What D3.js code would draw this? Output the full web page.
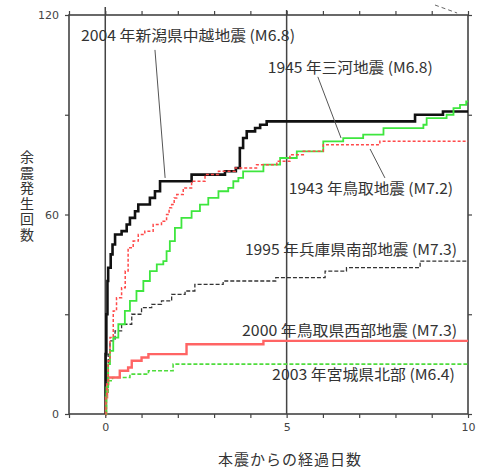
<!DOCTYPE html>
<html>
<head>
<meta charset="utf-8">
<script src="https://cdn.jsdelivr.net/npm/d3@7"></script>
<style>
body { margin: 0; background: #fff; }
</style>
</head>
<body>
<script>
// cumulative aftershock counts: [days after main shock, count]
var chuetsu2004 = [[0,0],[0.01,18],[0.03,30],[0.06,40],[0.08,44],[0.15,48],[0.2,51],[0.27,54],[0.45,55],[0.59,57],[0.68,59],[0.82,61],[0.91,63],[1.23,65],[1.37,67],[1.51,70],[2.38,72],[3.3,73],[3.6,74],[3.71,80],[3.8,83],[3.9,85],[4.13,86],[4.27,87],[4.45,88],[8.54,90],[9.31,91],[10,91]];
var tottori1943 = [[0,0],[0.02,5],[0.04,9],[0.08,16],[0.13,23],[0.22,31],[0.31,35],[0.45,38],[0.55,43],[0.63,50],[0.77,52],[0.91,54],[1.09,55],[1.32,57],[1.55,58],[1.69,60],[1.76,62],[1.83,63],[1.9,65],[1.97,66],[2.15,68],[2.38,70],[2.75,72],[3.12,73],[3.58,74],[4.17,75],[4.73,76],[5.09,78],[5.46,79],[6.01,81],[7.57,82],[10,82]];
var mikawa1945 = [[0,0],[0.03,8],[0.08,15],[0.13,19],[0.22,23],[0.36,27],[0.54,31],[0.68,34],[0.86,37],[1.05,40],[1.23,43],[1.42,45],[1.6,46],[1.69,49],[1.78,52],[1.92,56],[2.1,59],[2.38,61],[2.61,63],[2.84,65],[3.12,67],[3.39,68],[3.53,70],[3.67,71],[3.8,73],[4.36,75],[4.82,77],[5.28,79],[6.01,82],[6.56,83],[7.11,84],[7.67,86],[8.77,87],[8.86,89],[9.41,90],[9.6,92],[9.78,93],[9.95,94],[10,94]];
var kobe1995 = [[0,0],[0.03,10],[0.08,18],[0.13,22],[0.27,25],[0.45,27],[0.73,30],[1.0,32],[1.28,33],[1.55,34],[1.83,36],[2.2,37],[2.47,39],[3.25,40],[4.7,41],[6.06,43],[6.65,44],[8.68,46],[10,46]];
var tottoriWest2000 = [[0,0],[0.02,5],[0.05,9],[0.08,11],[0.4,13],[0.63,14],[0.73,16],[1.0,17],[1.19,18],[2.24,21],[4.36,22],[10,22]];
var miyagi2003 = [[0,0],[0.03,6],[0.08,10],[0.2,11],[0.68,12],[1.19,13],[1.87,15],[10,15]];

var xTicks = d3.range(-1, 11);
var xTickLabels = [0, 5, 10];
var yTicks = [0, 30, 60, 90, 120];
var yTickLabels = [0, 60, 120];
var refDays = [0, 5];
var xTitle = "本震からの経過日数";
var yTitle = "余震発生回数";

// label text, left/right day and count of its centre line
var labels = [
    {text: "2004 年新潟県中越地震 (M6.8)", x0: -0.67, x1: 5.23, y: 114},
    {text: "1945 年三河地震 (M6.8)", x0: 4.48, x1: 9.03, y: 104.4},
    {text: "1943 年鳥取地震 (M7.2)", x0: 5.06, x1: 9.59, y: 68},
    {text: "1995 年兵庫県南部地震 (M7.3)", x0: 3.85, x1: 9.7, y: 49.9},
    {text: "2000 年鳥取県西部地震 (M7.3)", x0: 3.77, x1: 9.7, y: 25.3},
    {text: "2003 年宮城県北部 (M6.4)", x0: 4.6, x1: 9.64, y: 12.3}
];
var leaders = [
    [[1.37, 109.5], [1.65, 71]],
    [[5.86, 101.4], [6.5, 83]],
    [[7.3, 79.7], [7.71, 71]]
];

var series = [
    {data: chuetsu2004, color: "#111", width: 2.6, dash: null},
    {data: miyagi2003, color: "#4fdc3c", width: 1.6, dash: "4,2"},
    {data: tottoriWest2000, color: "#ff6464", width: 2.4, dash: null},
    {data: kobe1995, color: "#333", width: 1.3, dash: "4,2"},
    {data: mikawa1945, color: "#3ee63e", width: 1.8, dash: null},
    {data: tottori1943, color: "#ff4a4a", width: 1.5, dash: "3,2"}
];

var width = 480, height = 467;
var axisColor = "#444";
var font = "'Noto Sans CJK JP', 'Noto Sans', sans-serif";

var svg = d3.select("body").append("svg")
    .attr("width", width)
    .attr("height", height)
    .style("background", "#fff");

var x = d3.scaleLinear().domain([-1, 10]).range([69, 468]);
var y = d3.scaleLinear().domain([0, 120]).range([414, 15]);

// reference lines at day 0 and 5
svg.selectAll("line.ref")
    .data(refDays)
    .enter().append("line")
    .attr("class", "ref")
    .attr("x1", d => x(d)).attr("x2", d => x(d))
    .attr("y1", (d, i) => y(i == 0 ? 122.4 : 121.5)).attr("y2", y(0))
    .attr("stroke", axisColor)
    .attr("stroke-width", 1.5);

// axes
function styleAxis(g, labelled) {
    g.select(".domain").remove();
    g.selectAll(".tick line").attr("stroke", axisColor).attr("stroke-width", 1.2);
    g.selectAll(".tick text")
        .attr("fill", axisColor)
        .style("font-family", "'DejaVu Sans', sans-serif")
        .style("font-size", "11px")
        .text(d => labelled.indexOf(d) >= 0 ? d : "");
}

svg.append("g").attr("transform", "translate(0," + y(0) + ")")
    .call(d3.axisBottom(x).tickValues(xTicks).tickSize(4).tickPadding(5))
    .call(g => styleAxis(g, xTickLabels));
svg.append("g").attr("transform", "translate(0," + y(120) + ")")
    .call(d3.axisTop(x).tickValues(xTicks).tickSize(4))
    .call(g => styleAxis(g, []));
svg.append("g").attr("transform", "translate(" + x(-1) + ",0)")
    .call(d3.axisLeft(y).tickValues(yTicks).tickSize(4).tickPadding(6))
    .call(g => styleAxis(g, yTickLabels));
svg.append("g").attr("transform", "translate(" + x(10) + ",0)")
    .call(d3.axisRight(y).tickValues(yTicks).tickSize(4))
    .call(g => styleAxis(g, []));

svg.append("rect")
    .attr("x", x(-1)).attr("y", y(120))
    .attr("width", x(10) - x(-1)).attr("height", y(0) - y(120))
    .attr("fill", "none")
    .attr("stroke", axisColor)
    .attr("stroke-width", 1.6);

// curves
var line = d3.line()
    .x(d => x(d[0]))
    .y(d => y(d[1]))
    .curve(d3.curveStepAfter);

svg.selectAll("path.series")
    .data(series)
    .enter().append("path")
    .attr("class", "series")
    .attr("d", d => line(d.data))
    .attr("fill", "none")
    .attr("stroke", d => d.color)
    .attr("stroke-width", d => d.width)
    .attr("stroke-dasharray", d => d.dash);

// leader lines
svg.selectAll("line.leader")
    .data(leaders)
    .enter().append("line")
    .attr("class", "leader")
    .attr("x1", d => x(d[0][0])).attr("y1", d => y(d[0][1]))
    .attr("x2", d => x(d[1][0])).attr("y2", d => y(d[1][1]))
    .attr("stroke", "#555")
    .attr("stroke-width", 1);

// stray dashed mark at top right
svg.append("line")
    .attr("x1", x(9.09)).attr("y1", y(123))
    .attr("x2", x(9.7)).attr("y2", y(120.6))
    .attr("stroke", "#666")
    .attr("stroke-dasharray", "4,3");

// labels
svg.selectAll("text.label")
    .data(labels)
    .enter().append("text")
    .attr("class", "label")
    .attr("x", d => x(d.x0))
    .attr("y", d => y(d.y))
    .attr("dominant-baseline", "central")
    .attr("textLength", d => x(d.x1) - x(d.x0))
    .attr("lengthAdjust", "spacingAndGlyphs")
    .attr("fill", "#333")
    .style("font-family", font)
    .style("font-size", "15px")
    .text(d => d.text);

// axis titles
svg.append("text")
    .attr("x", 290)
    .attr("y", 458)
    .attr("text-anchor", "middle")
    .attr("dominant-baseline", "central")
    .attr("fill", "#333")
    .style("font-family", font)
    .style("font-size", "15px")
    .style("letter-spacing", "1px")
    .text(xTitle);

svg.append("text")
    .attr("x", 27)
    .attr("y", 150)
    .attr("fill", "#333")
    .style("font-family", font)
    .style("font-size", "14px")
    .style("writing-mode", "vertical-rl")
    .style("letter-spacing", "1.5px")
    .text(yTitle);
</script>
</body>
</html>
